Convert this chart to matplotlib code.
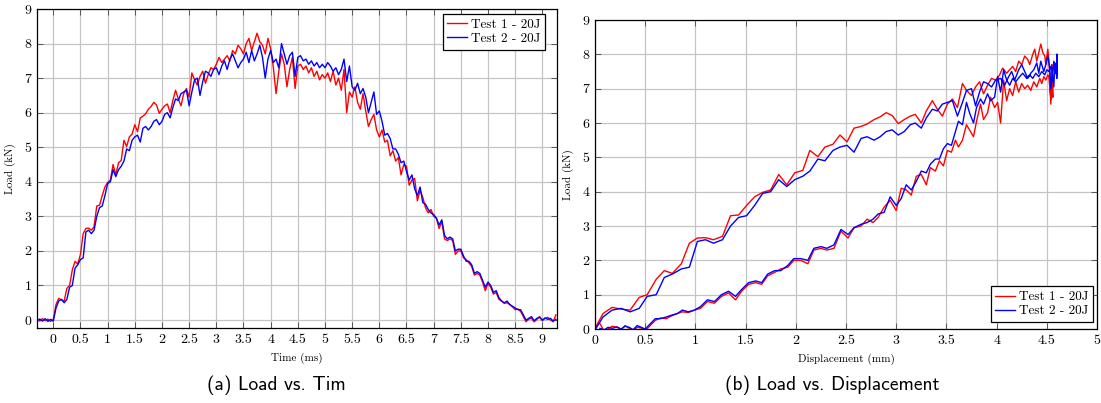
import numpy as np
import matplotlib
matplotlib.use('Agg')
import matplotlib.pyplot as plt
from matplotlib.ticker import FormatStrFormatter, MultipleLocator

plt.rcParams['font.family'] = ['cmr10', 'DejaVu Serif']
plt.rcParams['axes.unicode_minus'] = False
plt.rcParams['axes.formatter.use_mathtext'] = True

# sampling of the recorded signals (ms)
t_start = -0.3
dt = 0.05

# load (kN), test 1 (red)
load_1 = [
    0.02, -0.03, 0.04, -0.02, 0.03, -0.04, 0.02, 0.45, 0.63, 0.58,
    0.55, 0.92, 1.00, 1.45, 1.70, 1.62, 1.90, 2.50, 2.65, 2.66,
    2.60, 2.70, 3.30, 3.32, 3.60, 3.85, 3.98, 4.05, 4.50, 4.20,
    4.55, 4.62, 5.20, 5.02, 5.30, 5.38, 5.65, 5.45, 5.85, 5.90,
    5.97, 6.10, 6.18, 6.30, 6.22, 5.98, 6.10, 6.20, 6.25, 6.00,
    6.35, 6.65, 6.40, 6.20, 6.55, 6.70, 6.45, 7.15, 6.95, 6.80,
    7.05, 7.20, 6.85, 7.10, 7.30, 7.25, 7.40, 7.60, 7.45, 7.55,
    7.65, 7.50, 7.80, 7.70, 7.95, 7.85, 7.70, 8.00, 8.15, 7.80,
    8.05, 8.30, 8.05, 7.95, 7.70, 8.15, 7.85, 7.30, 6.55, 7.20,
    7.70, 7.40, 6.75, 7.25, 7.60, 6.70, 7.35, 7.40, 7.25, 7.35,
    7.15, 7.30, 7.05, 7.20, 6.95, 7.10, 7.00, 7.15, 6.90, 7.20,
    6.80, 7.00, 6.65, 7.25, 6.00, 6.60, 6.45, 6.75, 6.30, 6.10,
    6.55, 6.05, 5.60, 5.80, 5.95, 5.50, 5.30, 5.50, 5.15, 5.20,
    4.75, 4.90, 4.60, 4.70, 4.20, 4.50, 4.45, 3.90, 4.05, 4.10,
    3.45, 3.75, 3.55, 3.25, 3.10, 3.20, 3.00, 2.95, 2.65, 2.85,
    2.35, 2.30, 2.35, 2.30, 1.90, 2.00, 2.00, 1.80, 1.75, 1.65,
    1.55, 1.30, 1.35, 1.30, 1.10, 0.85, 1.05, 0.95, 0.75, 0.80,
    0.60, 0.55, 0.48, 0.50, 0.45, 0.38, 0.30, 0.32, 0.25, 0.10,
    -0.05, 0.03, 0.05, -0.05, 0.02, 0.10, -0.02, 0.05, 0.08, 0.00,
    -0.05, 0.15,
]

# load (kN), test 2 (blue)
load_2 = [
    -0.02, 0.03, -0.03, 0.04, -0.04, 0.02, -0.03, 0.35, 0.55, 0.60,
    0.50, 0.60, 0.95, 1.00, 1.50, 1.60, 1.75, 1.80, 2.55, 2.60,
    2.50, 2.60, 3.00, 3.25, 3.30, 3.60, 3.95, 4.00, 4.35, 4.15,
    4.35, 4.45, 4.60, 4.95, 4.90, 5.20, 5.30, 5.35, 5.15, 5.55,
    5.60, 5.50, 5.60, 5.75, 5.80, 5.65, 5.75, 5.95, 6.00, 5.85,
    6.15, 6.40, 6.35, 6.55, 6.60, 6.65, 6.20, 6.60, 6.95, 7.00,
    6.50, 6.90, 7.20, 7.15, 7.05, 7.25, 7.30, 7.10, 7.35, 7.50,
    7.25, 7.55, 7.70, 7.50, 7.30, 7.45, 7.55, 7.75, 7.45, 7.80,
    7.50, 7.70, 7.95, 7.60, 7.00, 7.55, 7.80, 7.45, 7.55, 7.30,
    8.00, 7.70, 7.40, 7.65, 7.75, 7.05, 7.60, 7.65, 7.50, 7.55,
    7.40, 7.50, 7.35, 7.45, 7.30, 7.40, 7.30, 7.45, 7.35, 7.20,
    7.30, 7.10, 7.25, 7.55, 6.90, 7.35, 6.75, 6.65, 6.85, 6.55,
    6.70, 6.45, 6.00, 6.30, 6.60, 5.95, 6.05, 5.75, 5.35, 5.40,
    5.25, 4.95, 4.95, 4.80, 4.55, 4.60, 4.30, 4.05, 4.20, 3.80,
    3.60, 3.85, 3.40, 3.35, 3.20, 3.10, 3.05, 2.95, 2.75, 2.90,
    2.45, 2.35, 2.40, 2.35, 2.00, 2.05, 2.05, 1.85, 1.70, 1.70,
    1.60, 1.35, 1.40, 1.35, 1.15, 0.95, 1.10, 1.00, 0.80, 0.85,
    0.65, 0.55, 0.50, 0.55, 0.45, 0.40, 0.35, 0.30, 0.30, 0.15,
    0.00, 0.05, 0.10, -0.02, 0.05, 0.08, 0.00, 0.06, 0.02, 0.05,
    -0.03, 0.02,
]

# displacement (mm), test 1
disp_1 = [
    -0.50, -0.42, -0.34, -0.25, -0.17, -0.08, 0.00, 0.08, 0.17, 0.26,
    0.35, 0.44, 0.52, 0.61, 0.69, 0.77, 0.86, 0.94, 1.02, 1.10,
    1.18, 1.27, 1.35, 1.43, 1.51, 1.59, 1.67, 1.75, 1.83, 1.91,
    1.99, 2.07, 2.14, 2.22, 2.29, 2.37, 2.44, 2.51, 2.58, 2.65,
    2.71, 2.78, 2.84, 2.90, 2.96, 3.02, 3.08, 3.14, 3.19, 3.25,
    3.30, 3.36, 3.41, 3.46, 3.51, 3.56, 3.61, 3.66, 3.70, 3.75,
    3.79, 3.83, 3.87, 3.91, 3.95, 3.99, 4.03, 4.06, 4.10, 4.13,
    4.16, 4.19, 4.22, 4.25, 4.28, 4.31, 4.33, 4.36, 4.38, 4.40,
    4.42, 4.44, 4.46, 4.48, 4.49, 4.51, 4.52, 4.53, 4.54, 4.55,
    4.55, 4.56, 4.56, 4.55, 4.55, 4.54, 4.52, 4.51, 4.49, 4.47,
    4.45, 4.43, 4.40, 4.37, 4.34, 4.31, 4.28, 4.25, 4.22, 4.19,
    4.16, 4.13, 4.10, 4.07, 4.04, 4.01, 3.98, 3.94, 3.91, 3.87,
    3.84, 3.80, 3.77, 3.73, 3.70, 3.66, 3.62, 3.59, 3.55, 3.51,
    3.47, 3.43, 3.39, 3.34, 3.30, 3.25, 3.20, 3.15, 3.10, 3.05,
    3.00, 2.94, 2.88, 2.82, 2.77, 2.71, 2.65, 2.58, 2.52, 2.45,
    2.38, 2.31, 2.25, 2.18, 2.12, 2.05, 1.98, 1.92, 1.85, 1.79,
    1.72, 1.66, 1.60, 1.53, 1.46, 1.40, 1.33, 1.26, 1.19, 1.12,
    1.05, 0.99, 0.93, 0.87, 0.82, 0.76, 0.71, 0.65, 0.60, 0.55,
    0.50, 0.46, 0.42, 0.38, 0.34, 0.30, 0.26, 0.22, 0.17, 0.13,
    0.09, 0.05,
]

# displacement (mm), test 2
disp_2 = [
    -0.50, -0.42, -0.34, -0.25, -0.17, -0.08, 0.00, 0.08, 0.17, 0.26,
    0.35, 0.44, 0.52, 0.61, 0.69, 0.77, 0.86, 0.94, 1.02, 1.10,
    1.18, 1.27, 1.35, 1.43, 1.51, 1.59, 1.67, 1.75, 1.83, 1.91,
    1.99, 2.07, 2.14, 2.22, 2.29, 2.37, 2.44, 2.51, 2.58, 2.65,
    2.71, 2.78, 2.84, 2.90, 2.96, 3.02, 3.08, 3.14, 3.19, 3.25,
    3.30, 3.36, 3.41, 3.46, 3.51, 3.56, 3.61, 3.66, 3.70, 3.75,
    3.79, 3.83, 3.87, 3.91, 3.95, 3.99, 4.04, 4.08, 4.12, 4.15,
    4.18, 4.22, 4.25, 4.28, 4.31, 4.34, 4.37, 4.40, 4.42, 4.44,
    4.47, 4.49, 4.51, 4.53, 4.54, 4.56, 4.57, 4.58, 4.59, 4.60,
    4.60, 4.60, 4.60, 4.59, 4.58, 4.57, 4.55, 4.54, 4.52, 4.50,
    4.48, 4.45, 4.42, 4.39, 4.36, 4.33, 4.30, 4.26, 4.23, 4.19,
    4.16, 4.13, 4.10, 4.07, 4.04, 4.01, 3.98, 3.94, 3.91, 3.87,
    3.84, 3.80, 3.77, 3.73, 3.70, 3.66, 3.62, 3.59, 3.55, 3.51,
    3.47, 3.43, 3.39, 3.34, 3.30, 3.25, 3.20, 3.15, 3.10, 3.05,
    3.00, 2.94, 2.88, 2.82, 2.77, 2.71, 2.65, 2.58, 2.52, 2.45,
    2.38, 2.31, 2.25, 2.18, 2.12, 2.05, 1.98, 1.92, 1.85, 1.79,
    1.72, 1.66, 1.60, 1.53, 1.46, 1.40, 1.33, 1.26, 1.19, 1.12,
    1.05, 0.99, 0.93, 0.87, 0.82, 0.76, 0.71, 0.65, 0.60, 0.55,
    0.50, 0.46, 0.42, 0.38, 0.34, 0.30, 0.26, 0.22, 0.17, 0.13,
    0.09, 0.05,
]

assert len(load_1) == len(load_2) == len(disp_1) == len(disp_2)

labels = ['Test 1 - 20J', 'Test 2 - 20J']
colors = ['#ff0000', '#0000ff']

time = t_start + dt * np.arange(len(load_1))


def style_axes(ax):
    ax.grid(True, color='#c4c4c4', linewidth=0.9)
    ax.set_axisbelow(True)
    ax.tick_params(direction='in', top=True, right=True, length=4,
                   width=0.7, labelsize=10, pad=4, color='#555555')
    for sp in ax.spines.values():
        sp.set_linewidth(0.9)
        sp.set_color('black')


def add_legend(ax, loc, anchor):
    leg = ax.legend(loc=loc, bbox_to_anchor=anchor, fontsize=9.5, fancybox=False,
                    edgecolor='black', framealpha=1, handlelength=1.5,
                    handletextpad=0.3, borderaxespad=0, borderpad=0.35,
                    labelspacing=0.15)
    leg.get_frame().set_linewidth(0.9)


fig = plt.figure(figsize=(11.01, 4.03), dpi=100)

# (a) load vs time
ax = fig.add_axes([37 / 1101, 1 - 328 / 403, 520 / 1101, 319 / 403])
ax.plot(time, load_1, color=colors[0], linewidth=1.0, label=labels[0])
ax.plot(time, load_2, color=colors[1], linewidth=1.0, label=labels[1])
ax.set_xlim(-0.3, 9.27)
ax.set_ylim(-0.23, 9)
ax.xaxis.set_major_locator(MultipleLocator(0.5))
ax.yaxis.set_major_locator(MultipleLocator(1))
ax.xaxis.set_major_formatter(FormatStrFormatter('%g'))
ax.yaxis.set_major_formatter(FormatStrFormatter('%g'))
style_axes(ax)
ax.set_xlabel('Time (ms)', fontsize=8, labelpad=5)
ax.set_ylabel('Load (kN)', fontsize=8, labelpad=6)
add_legend(ax, 'upper right', (1 - 12 / 520, 1 - 5 / 319))

# (b) load vs displacement
ax1 = fig.add_axes([595 / 1101, 1 - 329 / 403, 502 / 1101, 309 / 403])
ax1.plot(disp_1, load_1, color=colors[0], linewidth=1.0, label=labels[0])
ax1.plot(disp_2, load_2, color=colors[1], linewidth=1.0, label=labels[1])
ax1.set_xlim(0, 5)
ax1.set_ylim(0, 9)
ax1.xaxis.set_major_locator(MultipleLocator(0.5))
ax1.yaxis.set_major_locator(MultipleLocator(1))
ax1.xaxis.set_major_formatter(FormatStrFormatter('%g'))
ax1.yaxis.set_major_formatter(FormatStrFormatter('%g'))
style_axes(ax1)
ax1.set_xlabel('Displacement (mm)', fontsize=8, labelpad=5)
ax1.set_ylabel('Load (kN)', fontsize=8, labelpad=6)
add_legend(ax1, 'lower right', (1 - 4 / 502, 7 / 309))

# captions
fig.text(276 / 1101, 1 - 385 / 403, '(a) Load vs. Tim', ha='center', va='center',
         fontsize=14, family=['cmss10', 'DejaVu Sans'])
fig.text(832 / 1101, 1 - 385 / 403, '(b) Load vs. Displacement', ha='center',
         va='center', fontsize=14, family=['cmss10', 'DejaVu Sans'])

fig.savefig('out.png', dpi=100)
